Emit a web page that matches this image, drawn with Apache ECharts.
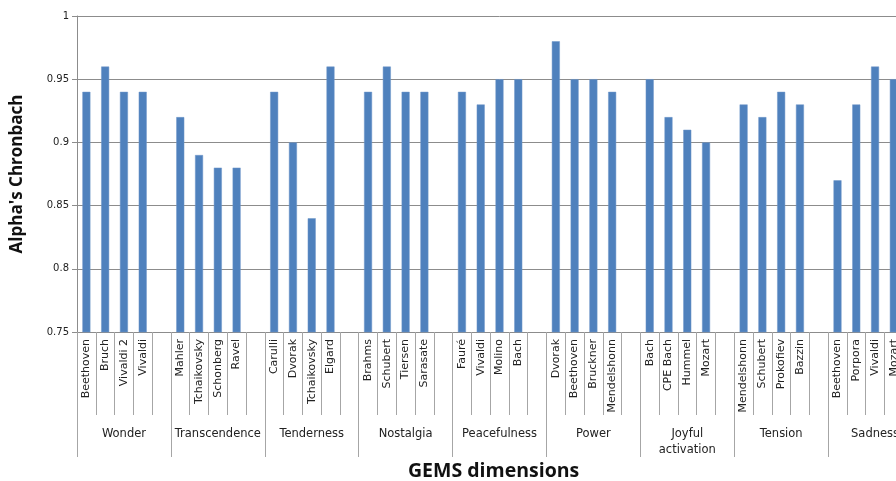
<!DOCTYPE html>
<html>
<head>
<meta charset="utf-8">
<script src="https://cdn.jsdelivr.net/npm/echarts@6/dist/echarts.min.js"></script>
<style>
  html, body { margin: 0; padding: 0; background: #fff; overflow: hidden; }
  /* the original picture is cut off on the right, so the chart is wider than the window */
  #chart { width: 930px; height: 481px; }
</style>
</head>
<body>
<div id="chart"></div>
<script>
// GEMS dimensions, 4 pieces each, one empty slot after every group
const groups = ['Wonder', 'Transcendence', 'Tenderness', 'Nostalgia', 'Peacefulness',
  'Power', 'Joyful activation', 'Tension', 'Sadness']
const pieces = [
  ['Beethoven', 'Bruch', 'Vivaldi 2', 'Vivaldi'],
  ['Mahler', 'Tchaikovsky', 'Schonberg', 'Ravel'],
  ['Carulli', 'Dvorak', 'Tchaikovsky', 'Elgard'],
  ['Brahms', 'Schubert', 'Tiersen', 'Sarasate'],
  ['Fauré', 'Vivaldi', 'Molino', 'Bach'],
  ['Dvorak', 'Beethoven', 'Bruckner', 'Mendelshonn'],
  ['Bach', 'CPE Bach', 'Hummel', 'Mozart'],
  ['Mendelshonn', 'Schubert', 'Prokofiev', 'Bazzin'],
  ['Beethoven', 'Porpora', 'Vivaldi', 'Mozart']
]
const alphas = [
  [0.94, 0.96, 0.94, 0.94],
  [0.92, 0.89, 0.88, 0.88],
  [0.94, 0.90, 0.84, 0.96],
  [0.94, 0.96, 0.94, 0.94],
  [0.94, 0.93, 0.95, 0.95],
  [0.98, 0.95, 0.95, 0.94],
  [0.95, 0.92, 0.91, 0.90],
  [0.93, 0.92, 0.94, 0.93],
  [0.87, 0.93, 0.96, 0.95]
]
const yTicks = { min: 0.75, max: 1, interval: 0.05 }

// flatten into slots (gap slot = empty label, no value)
const slotLabels = []
const slotValues = []
pieces.forEach((list, g) => {
  list.forEach((name, i) => {
    slotLabels.push(name)
    slotValues.push(alphas[g][i])
  })
  slotLabels.push('')
  slotValues.push('-')
})

const gridLine = '#8c8c8c'
const txt = '#222'

const chart = echarts.init(document.getElementById('chart'), null, { renderer: 'canvas' })
chart.setOption({
  animation: false,
  title: {
    text: 'GEMS dimensions',
    left: 403,
    top: 456,
    textStyle: { fontFamily: 'Open Sans', fontWeight: 'bold', fontSize: 19.5, color: '#111' }
  },
  grid: { left: 77, top: 16, width: 845, height: 316, containLabel: false },
  xAxis: [
    {
      type: 'category',
      data: slotLabels,
      position: 'bottom',
      axisLine: { show: true, lineStyle: { color: gridLine } },
      axisTick: { show: true, interval: 0, length: 83, lineStyle: { color: '#a6a6a6' } },
      axisLabel: {
        interval: 0, rotate: 90, margin: 7,
        fontFamily: 'DejaVu Sans', fontSize: 11, color: txt
      }
    },
    {
      type: 'category',
      data: groups,
      position: 'bottom',
      axisLine: { show: false },
      axisTick: { show: true, interval: 0, length: 125, lineStyle: { color: '#a6a6a6' } },
      axisLabel: {
        interval: 0, margin: 94, lineHeight: 16,
        fontFamily: 'DejaVu Sans', fontSize: 11.5, color: txt,
        formatter: v => v.replace(' ', '\n')
      }
    }
  ],
  yAxis: {
    type: 'value',
    min: yTicks.min,
    max: yTicks.max,
    interval: yTicks.interval,
    name: "Alpha's Chronbach",
    nameLocation: 'middle',
    nameRotate: 90,
    nameGap: 51,
    nameTextStyle: { fontFamily: 'Open Sans', fontWeight: 'bold', fontSize: 17, color: '#111' },
    axisLine: { show: true, lineStyle: { color: gridLine } },
    axisTick: { show: true, length: 5, lineStyle: { color: gridLine } },
    axisLabel: { margin: 8, fontFamily: 'DejaVu Sans', fontSize: 10, color: txt },
    splitLine: { show: true, lineStyle: { color: gridLine, width: 1 } }
  },
  series: [
    {
      type: 'bar',
      xAxisIndex: 0,
      data: slotValues,
      barWidth: 8,
      itemStyle: { color: '#4f81bd', borderColor: '#6f97c9', borderWidth: 0.5 }
    }
  ]
})
</script>
</body>
</html>
